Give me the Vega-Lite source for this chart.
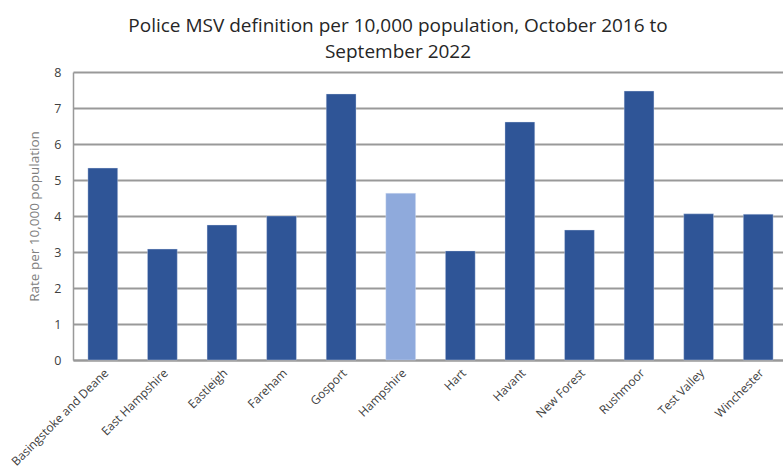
{
  "$schema": "https://vega.github.io/schema/vega-lite/v6.json",
  "autosize": {"type": "none"},
  "width": 710,
  "height": 288,
  "padding": {"left": 73, "top": 72, "right": 0, "bottom": 112},
  "background": "white",
  "config": {
    "font": "Open Sans",
    "view": {"stroke": null}
  },
  "title": {
    "text": ["Police MSV definition per 10,000 population, October 2016 to", "September 2022"],
    "font": "Open Sans",
    "fontSize": 19,
    "fontWeight": "normal",
    "color": "#262626",
    "anchor": "middle",
    "frame": "group",
    "dx": -30,
    "lineHeight": 26,
    "offset": 4
  },
  "data": {
    "values": [
      {"area": "Basingstoke and Deane", "rate": 5.33, "group": "District"},
      {"area": "East Hampshire", "rate": 3.08, "group": "District"},
      {"area": "Eastleigh", "rate": 3.75, "group": "District"},
      {"area": "Fareham", "rate": 4.0, "group": "District"},
      {"area": "Gosport", "rate": 7.39, "group": "District"},
      {"area": "Hampshire", "rate": 4.63, "group": "County"},
      {"area": "Hart", "rate": 3.03, "group": "District"},
      {"area": "Havant", "rate": 6.61, "group": "District"},
      {"area": "New Forest", "rate": 3.61, "group": "District"},
      {"area": "Rushmoor", "rate": 7.47, "group": "District"},
      {"area": "Test Valley", "rate": 4.06, "group": "District"},
      {"area": "Winchester", "rate": 4.05, "group": "District"}
    ]
  },
  "mark": {"type": "bar", "stroke": "#dbe3f3", "strokeWidth": 0.6, "strokeOpacity": 0.6},
  "encoding": {
    "x": {
      "field": "area",
      "type": "nominal",
      "sort": null,
      "scale": {"range": [0, 715], "paddingInner": 0.5, "paddingOuter": 0.25},
      "axis": {
        "title": null,
        "labelAngle": -45,
        "labelFontSize": 12,
        "labelColor": "#404040",
        "labelPadding": 7,
        "ticks": false,
        "domain": true,
        "domainColor": "#999999",
        "domainWidth": 2,
        "grid": false
      }
    },
    "y": {
      "field": "rate",
      "type": "quantitative",
      "scale": {"domain": [0, 8], "nice": false},
      "axis": {
        "title": "Rate per 10,000 population",
        "titleFontSize": 13.5,
        "titleFontWeight": "normal",
        "titleColor": "#808080",
        "titlePadding": 12,
        "values": [0, 1, 2, 3, 4, 5, 6, 7, 8],
        "labelFontSize": 12.5,
        "labelColor": "#404040",
        "labelPadding": 12,
        "ticks": false,
        "domain": true,
        "domainColor": "#999999",
        "domainWidth": 1.5,
        "grid": true,
        "gridColor": "#999999",
        "gridWidth": 2
      }
    },
    "color": {
      "field": "group",
      "type": "nominal",
      "scale": {"domain": ["District", "County"], "range": ["#2f5597", "#8faadc"]},
      "legend": null
    }
  }
}
